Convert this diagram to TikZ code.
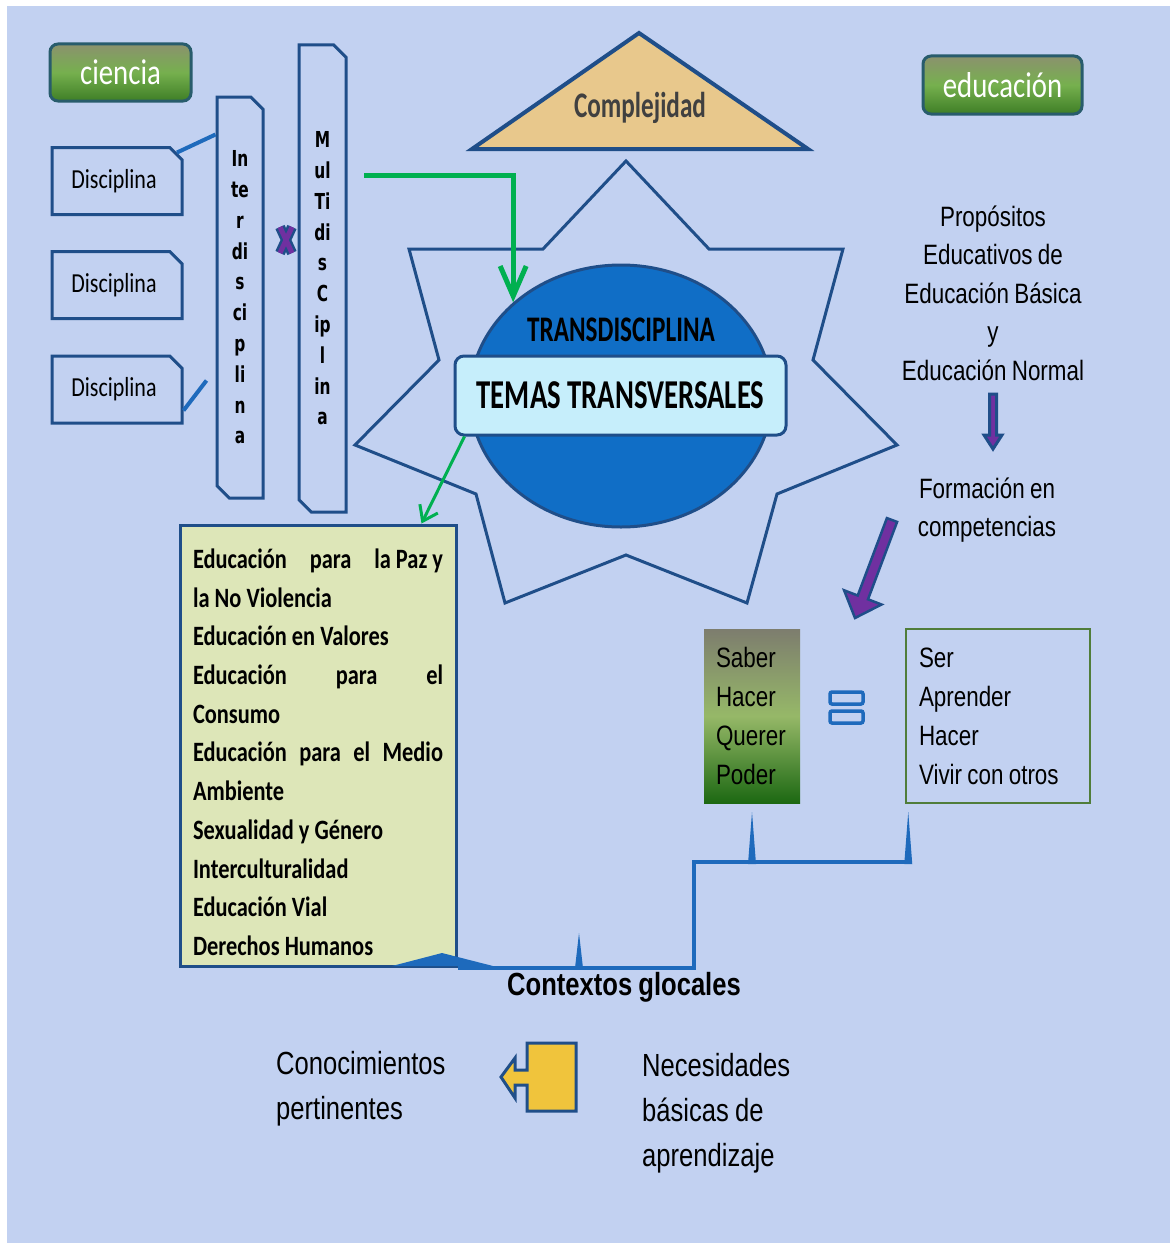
\documentclass[tikz,border=0pt]{standalone}
\usepackage{fontspec}
\setmainfont{Carlito}[FakeStretch=0.8]
\newfontfamily\narrowcal{Carlito}[FakeStretch=0.7]
\newfontfamily\arialn{Liberation Sans}[FakeStretch=0.8,WordSpace=0.85]
\newfontfamily\heavyfont{DejaVu Sans}[FakeStretch=0.7]
\usetikzlibrary{shapes.geometric,shapes.misc,arrows.meta,calc}

\definecolor{dblue}{RGB}{31,78,137}
\definecolor{lblue}{RGB}{30,106,188}
\definecolor{bgcol}{RGB}{194,209,241}
\definecolor{ellfill}{RGB}{16,110,198}
\definecolor{ttfill}{RGB}{198,238,251}
\definecolor{listfill}{RGB}{221,230,184}
\definecolor{tanfill}{RGB}{232,200,140}
\definecolor{arrgreen}{RGB}{0,176,80}
\definecolor{purp}{RGB}{112,48,160}
\definecolor{sergreen}{RGB}{80,125,58}
\definecolor{yel}{RGB}{240,196,60}

\begin{document}
\begin{tikzpicture}[x=1pt,y=1pt,yscale=-1,xscale=1,
  every node/.style={inner sep=0pt},
  greenbox/.style={draw={rgb,255:red,40;green,92;blue,108}, line width=3, rounded corners=8,
    top color={rgb,255:red,139;green,146;blue,110}, bottom color={rgb,255:red,62;green,126;blue,38},
    middle color={rgb,255:red,118;green,176;blue,78}, text=white, font=\fontsize{36}{40}\selectfont},
  snip/.style={chamfered rectangle, chamfered rectangle xsep=9pt, draw=dblue, line width=3},
  disc/.style={snip, chamfered rectangle corners=north east, minimum width=130, minimum height=67,
    font=\fontsize{27.5}{30}\selectfont},
  vbar/.style={snip, chamfered rectangle corners={north east,south west}, align=center,
    font=\heavyfont\bfseries\fontsize{22}{30.8}\selectfont},
  conn/.style={draw=lblue, line width=4},
  garrow/.style={draw=arrgreen, line width=5, -{Straight Barb[length=30,width=26]}},
  garrowb/.style={draw=arrgreen, line width=3, -{Straight Barb[length=14,width=20]}},
  ariatext/.style={font=\arialn\fontsize{28}{38.5}\selectfont}
]
%set diagram size
\fill[white] (0,0) rectangle (1172,1247);
\fill[bgcol] (7,6) rectangle (1170,1243);
\useasboundingbox (0,0) rectangle (1172,1247);

% Title boxes
\node[greenbox, minimum width=141, minimum height=57] (cien) at (120.5,72.5) {ciencia};
\node[greenbox, minimum width=159, minimum height=58] (educ) at (1002.5,85) {educación};

% Disciplinas
\node[disc] (d1) at (117,181) {\hspace{-6pt}Disciplina};
\node[disc] (d2) at (117,285) {\hspace{-6pt}Disciplina};
\node[disc] (d3) at (117,389.5) {\hspace{-6pt}Disciplina};

% Vertical bars
\node[vbar, minimum width=46, minimum height=401] (inter) at (240,297.5) {In\\te\\r\\di\\s\\ci\\p\\li\\n\\a};
\node[vbar, minimum width=47, minimum height=467] (multi) at (322.5,278.5) {M\\ul\\Ti\\di\\s\\C\\ip\\l\\in\\a};

\draw[conn] (d1.north east) -- ($(inter.north west)+(0,39)$);
\draw[conn] ($(d3.south east)+(0,-14)$) -- ($(inter.north west)+(-9,285)$);

%Shape: cross
\draw[draw=dblue, line width=10] (280,227) -- (292,253) (292,227) -- (280,253);
\draw[draw=purp, line width=5] (280,227) -- (292,253) (292,227) -- (280,253);

%Shape: Triangle
\draw[fill=tanfill, draw=dblue, line width=4] (472,149) -- (639,33) -- (808,149) -- cycle;
\node[font=\narrowcal\bfseries\fontsize{36}{40}\selectfont, text={rgb,255:red,64;green,64;blue,64}] (cplx) at (640,108) {Complejidad};

%Shape: Star
\draw[draw=dblue, line width=3] (626,161) -- (709,249) -- (843,249) -- (813,360) -- (897,445) -- (777,494) -- (747,603) -- (626,555) -- (505,603) -- (476,494) -- (355,445) -- (439,360) -- (409,249) -- (543,249) -- cycle;

% Center
\node[ellipse, draw=dblue, line width=3, fill=ellfill, minimum width=302, minimum height=262] (trans) at (621,396) {};
\node[font=\narrowcal\bfseries\fontsize{36}{40}\selectfont] (transt) at (621,330) {TRANSDISCIPLINA};
\node[draw=dblue, line width=3, fill=ttfill, rounded corners=9, minimum width=331, minimum height=79,
  font=\narrowcal\bfseries\fontsize{41}{45}\selectfont] (tt) at (620.5,395.5) {TEMAS TRANSVERSALES};

\coordinate (g0) at (364,175);
\draw[garrow] (g0) -| (trans.north west);

% Temas list
\node[draw=dblue, line width=3, fill=listfill, minimum width=276, minimum height=441,
  align=left, font=\bfseries\fontsize{28}{38.7}\selectfont] (list) at (318,745.5)
  {\rule{0pt}{33pt}\makebox[250pt][l]{Educación\hfill para\hfill la Paz y}\\ la No Violencia\\ Educación en Valores\\
   \makebox[250pt][l]{Educación\hfill para\hfill el}\\ Consumo\\ \makebox[250pt][l]{Educación\hfill para\hfill el\hfill Medio}\\
   Ambiente\\ Sexualidad y Género\\ Interculturalidad\\ Educación Vial\\ Derechos Humanos};
\draw[garrowb] ($(tt.south west)+(11,0)$) -- ($(list.north east)+(-36,0)$);

% Right column
\node[ariatext, align=center] (prop) at (993,293) {Propósitos\\Educativos de\\Educación Básica\\y\\Educación Normal};
\node[ariatext, align=center] (form) at (987,510) {Formación en\\competencias};
\filldraw[fill=purp, draw=dblue, line width=3] (989.5,394) -- (996.5,394) -- (996.5,435) -- (1002,435) -- (993,449) -- (984,435) -- (989.5,435) -- cycle;
\filldraw[fill=purp, draw=dblue, line width=2.5] (897.1,521.9) -- (868,599.3) -- (881.5,604.5) -- (855,618) -- (844.1,590.3) -- (857.7,595.5) -- (886.9,518.1) -- cycle;

\node[minimum width=96, minimum height=174, top color={rgb,255:red,125;green,125;blue,110},
  bottom color={rgb,255:red,28;green,104;blue,18}, middle color={rgb,255:red,150;green,184;blue,104},
  align=left, font=\arialn\fontsize{28}{39}\selectfont] (sabr) at (752,716)
  {\makebox[72pt][l]{Saber}\\Hacer\\Querer\\Poder};
\node[draw=sergreen, line width=1.5, minimum width=184, minimum height=174, align=left,
  font=\arialn\fontsize{28}{39}\selectfont] (ser) at (998,716) {\makebox[158pt][l]{Ser}\\Aprender\\Hacer\\Vivir con otros};

%Shape: equal
\draw[draw=lblue, line width=3.5, rounded corners=2] (830,692) rectangle (863,704);
\draw[draw=lblue, line width=3.5, rounded corners=2] (830,711) rectangle (863,723);

% Bracket
\coordinate (bk) at (694,862);
\fill[lblue] (392,966) -- (442,953) -- (493,966) -- cycle;
\draw[conn] (list.south east) -| (bk) -- (bk -| ser.south west);
\fill[lblue] ($(sabr.south |- bk)+(-4,2)$) -- ++(4,-52) -- ++(4,52) -- cycle;
\fill[lblue] ($(ser.south west |- bk)+(-1,2)$) -- ++(4,-52) -- ++(4,52) -- cycle;
\fill[lblue] (575,968) -- (579,933) -- (583,968) -- cycle;

\node[font=\bfseries\arialn\fontsize{32}{36}\selectfont] (ctx) at (624,987) {Contextos glocales};

% Bottom row
\node[anchor=west, align=left, font=\arialn\fontsize{32}{45}\selectfont] (conoc) at (276,1089) {Conocimientos\\pertinentes};
\node[anchor=west, align=left, font=\arialn\fontsize{32}{45}\selectfont] (neces) at (642,1113) {Necesidades\\básicas de\\aprendizaje};
\filldraw[fill=yel, draw=dblue, line width=3] (576,1043) -- (576,1111) -- (527,1111) -- (527,1085) -- (515,1085) -- (515,1098) -- (501,1077) -- (515,1058) -- (515,1070) -- (527,1070) -- (527,1043) -- cycle;
\end{tikzpicture}
\end{document}
